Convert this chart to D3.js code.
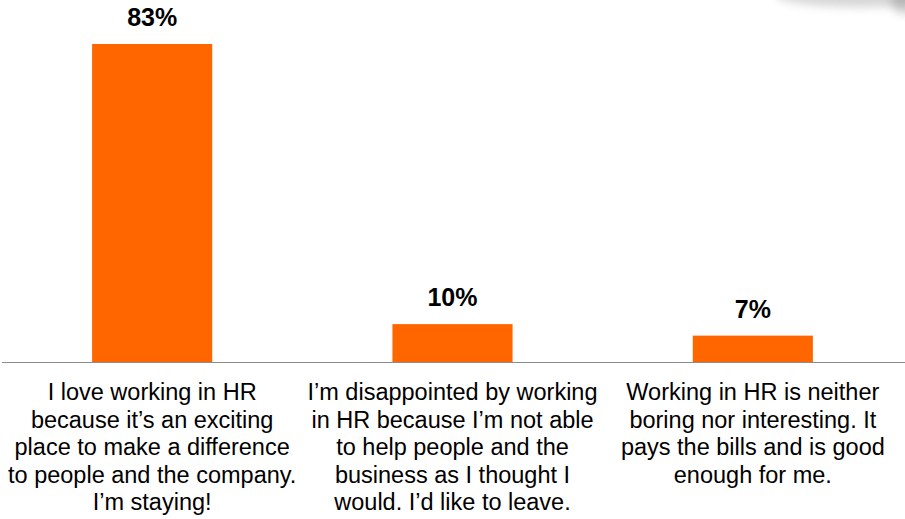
<!DOCTYPE html>
<html><head><meta charset="utf-8">
<script src="https://cdn.jsdelivr.net/npm/d3@7"></script>
<style>body{margin:0;background:#fff;}svg{display:block;}</style>
</head><body>
<script>
const categories = ["love", "disappointed", "neutral"];
const values = [83, 10, 7];
const valueLabels = ["83%", "10%", "7%"];
const categoryLines = [
  ["I love working in HR", "because it’s an exciting", "place to make a difference", "to people and the company.", "I’m staying!"],
  ["I’m disappointed by working", "in HR because I’m not able", "to help people and the", "business as I thought I", "would. I’d like to leave."],
  ["Working in HR is neither", "boring nor interesting. It", "pays the bills and is good", "enough for me."]
];

const W = 905, H = 519;
const baseY = 362.5;
const svg = d3.select("body").append("svg").attr("width", W).attr("height", H);

// decorative shadow top-right
const defs = svg.append("defs");
const f = defs.append("filter").attr("id","blur").attr("x","-50%").attr("y","-50%").attr("width","200%").attr("height","200%");
f.append("feGaussianBlur").attr("stdDeviation", 5);
svg.append("ellipse").attr("cx", 860).attr("cy", -6).attr("rx", 85).attr("ry", 13)
  .attr("fill", "#888").attr("opacity", 0.35).attr("filter", "url(#blur)");
svg.append("ellipse").attr("cx", 905).attr("cy", 0).attr("rx", 14).attr("ry", 14)
  .attr("fill", "#777").attr("opacity", 0.35).attr("filter", "url(#blur)");

const x = d3.scaleBand().domain(categories).range([2, 903]).paddingInner(0.6).paddingOuter(0.3);
const y = d3.scaleLinear().domain([0, 83]).range([baseY, 44]);

svg.selectAll("rect.bar").data(values).enter().append("rect")
  .attr("class", "bar")
  .attr("x", (d, i) => x(categories[i]))
  .attr("width", x.bandwidth())
  .attr("y", d => y(d))
  .attr("height", d => baseY - y(d))
  .attr("fill", "#FF6600");

svg.append("line").attr("x1", 2).attr("x2", 905).attr("y1", baseY).attr("y2", baseY)
  .attr("stroke", "#8c8c8c").attr("stroke-width", 1.2);

svg.selectAll("text.val").data(values).enter().append("text")
  .attr("class", "val")
  .attr("x", (d, i) => x(categories[i]) + x.bandwidth() / 2)
  .attr("y", d => y(d) - 18)
  .attr("text-anchor", "middle")
  .attr("font-family", "'Liberation Sans', Arial, sans-serif")
  .attr("font-weight", "bold")
  .attr("font-size", 25)
  .attr("fill", "#000")
  .text((d, i) => valueLabels[i]);

const lab = svg.selectAll("text.cat").data(categoryLines).enter().append("text")
  .attr("class", "cat")
  .attr("text-anchor", "middle")
  .attr("font-family", "'Liberation Sans', Arial, sans-serif")
  .attr("font-size", 23.5)
  .attr("fill", "#000");
lab.each(function(lines, i) {
  const cx = x(categories[i]) + x.bandwidth() / 2;
  d3.select(this).selectAll("tspan").data(lines).enter().append("tspan")
    .attr("x", cx)
    .attr("y", (l, j) => 400 + j * 27.5)
    .text(l => l);
});
</script>
</body></html>
